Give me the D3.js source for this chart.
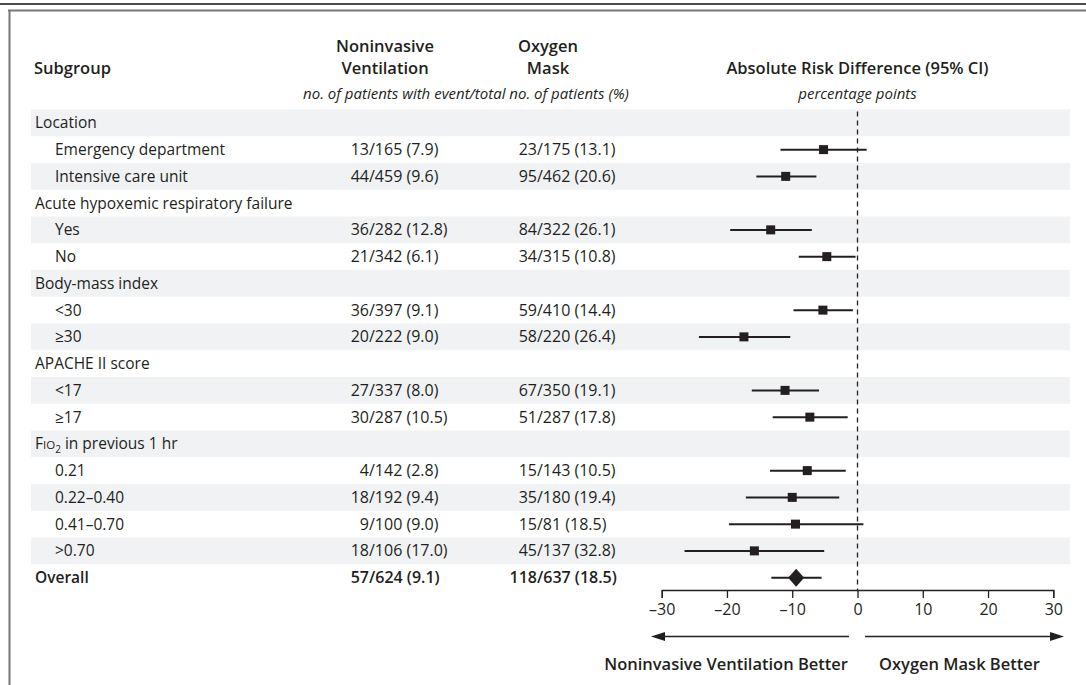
<!DOCTYPE html>
<html>
<head>
<meta charset="utf-8">
<script src="https://cdn.jsdelivr.net/npm/d3@7"></script>
<style>
body { margin: 0; background: #fff; }
svg { display: block; font-family: "Open Sans", Lato, sans-serif; }
</style>
</head>
<body>
<svg id="chart"></svg>
<script>
var width = 1086,
    height = 685;

// rows of the table, top to bottom
var subgroups = ["Location", "Emergency department", "Intensive care unit",
    "Acute hypoxemic respiratory failure", "Yes", "No",
    "Body-mass index", "<30", "\u226530",
    "APACHE II score", "<17", "\u226517",
    "FIO2 in previous 1 hr", "0.21", "0.22\u20130.40", "0.41\u20130.70", ">0.70",
    "Overall"];
var rowKind = ["group", "sub", "sub", "group", "sub", "sub", "group", "sub", "sub",
    "group", "sub", "sub", "group", "sub", "sub", "sub", "sub", "overall"];

var nivEvents = [null, 13, 44, null, 36, 21, null, 36, 20, null, 27, 30, null, 4, 18, 9, 18, 57];
var nivTotal  = [null, 165, 459, null, 282, 342, null, 397, 222, null, 337, 287, null, 142, 192, 100, 106, 624];
var nivPct    = [null, "7.9", "9.6", null, "12.8", "6.1", null, "9.1", "9.0", null, "8.0", "10.5", null, "2.8", "9.4", "9.0", "17.0", "9.1"];

var maskEvents = [null, 23, 95, null, 84, 34, null, 59, 58, null, 67, 51, null, 15, 35, 15, 45, 118];
var maskTotal  = [null, 175, 462, null, 322, 315, null, 410, 220, null, 350, 287, null, 143, 180, 81, 137, 637];
var maskPct    = [null, "13.1", "20.6", null, "26.1", "10.8", null, "14.4", "26.4", null, "19.1", "17.8", null, "10.5", "19.4", "18.5", "32.8", "18.5"];

// absolute risk difference, percentage points
var diff  = [null, -5.2, -11.0, null, -13.3, -4.7, null, -5.3, -17.4, null, -11.1, -7.3, null, -7.7, -10.0, -9.5, -15.8, -9.4];
var lower = [null, -11.8, -15.5, null, -19.5, -9.0, null, -9.8, -24.3, null, -16.2, -13.0, null, -13.4, -17.1, -19.7, -26.5, -13.2];
var upper = [null, 1.4, -6.3, null, -7.0, -0.3, null, -0.7, -10.3, null, -5.9, -1.5, null, -1.8, -2.8, 0.9, -5.1, -5.5];

var xTicks = [-30, -20, -10, 0, 10, 20, 30];

var svg = d3.select("#chart")
    .attr("width", width)
    .attr("height", height);

var x = d3.scaleLinear()
    .domain([-30, 30])
    .range([661.7, 1053.3]);

var y = d3.scaleBand()
    .domain(d3.range(subgroups.length))
    .range([109.5, 591]);

var ink = "#231f20";
var nivSlash = 369,
    maskSlash = 537;

// frame lines
svg.append("line")
    .attr("x1", 0).attr("x2", width)
    .attr("y1", 4).attr("y2", 4)
    .style("stroke", "#111").style("stroke-width", 1.5);
svg.append("line")
    .attr("x1", 8).attr("x2", width)
    .attr("y1", 10.5).attr("y2", 10.5)
    .style("stroke", "#777").style("stroke-width", 2);
svg.append("line")
    .attr("x1", 9.5).attr("x2", 9.5)
    .attr("y1", 10).attr("y2", height)
    .style("stroke", "#777").style("stroke-width", 2);

// row shading
svg.append("g")
    .selectAll("rect")
    .data(d3.range(subgroups.length).filter(function(i) { return i % 2 == 0; }))
    .enter().append("rect")
        .attr("x", 31)
        .attr("width", 1070 - 31)
        .attr("y", function(i) { return y(i); })
        .attr("height", y.bandwidth())
        .style("fill", "#f1f2f4");

// column headers
var head = svg.append("g")
    .style("fill", ink)
    .style("font-size", "16.5px")
    .style("font-weight", "600");
head.append("text").attr("x", 34).attr("y", 74).text("Subgroup");
head.append("text").attr("x", 385).attr("y", 52).attr("text-anchor", "middle").text("Noninvasive");
head.append("text").attr("x", 385).attr("y", 74).attr("text-anchor", "middle").text("Ventilation");
head.append("text").attr("x", 548).attr("y", 52).attr("text-anchor", "middle").text("Oxygen");
head.append("text").attr("x", 548).attr("y", 74).attr("text-anchor", "middle").text("Mask");
head.append("text").attr("x", x(0)).attr("y", 74).attr("text-anchor", "middle")
    .text("Absolute Risk Difference (95% CI)");

var sub = svg.append("g")
    .style("fill", ink)
    .style("font-size", "15px")
    .style("font-style", "italic");
sub.append("text").attr("x", 466).attr("y", 99).attr("text-anchor", "middle")
    .text("no. of patients with event/total no. of patients (%)");
sub.append("text").attr("x", x(0)).attr("y", 99).attr("text-anchor", "middle")
    .text("percentage points");

// table text
var rows = svg.append("g")
    .style("fill", ink)
    .style("font-size", "15.5px")
    .selectAll("g")
    .data(d3.range(subgroups.length))
    .enter().append("g")
        .attr("transform", function(i) { return "translate(0," + (y(i) + y.bandwidth() / 2 + 5.5) + ")"; })
        .style("font-weight", function(i) { return rowKind[i] == "overall" ? "600" : null; });

rows.append("text")
    .attr("x", function(i) { return rowKind[i] == "sub" ? 55 : 35; })
    .each(function(i) {
        var t = d3.select(this);
        if (subgroups[i].indexOf("FIO2") == 0) {
            t.append("tspan").text("F");
            t.append("tspan").style("font-size", "11.5px").text("IO");
            t.append("tspan").style("font-size", "10px").attr("dy", 4).text("2");
            t.append("tspan").attr("dy", -4).text(" in previous 1 hr");
        } else {
            t.text(subgroups[i]);
        }
    });

var withData = rows.filter(function(i) { return nivEvents[i] != null; });
var nums = withData.append("g").style("font-size", "16px");

nums.append("text")
    .attr("x", nivSlash)
    .attr("text-anchor", "end")
    .text(function(i) { return nivEvents[i]; });
nums.append("text")
    .attr("x", nivSlash)
    .text(function(i) { return "/" + nivTotal[i] + " (" + nivPct[i] + ")"; });
nums.append("text")
    .attr("x", maskSlash)
    .attr("text-anchor", "end")
    .text(function(i) { return maskEvents[i]; });
nums.append("text")
    .attr("x", maskSlash)
    .text(function(i) { return "/" + maskTotal[i] + " (" + maskPct[i] + ")"; });

// reference line at zero
svg.append("line")
    .attr("x1", x(0)).attr("x2", x(0))
    .attr("y1", y(0) + 2).attr("y2", 590)
    .style("stroke", ink)
    .style("stroke-width", 1.3)
    .style("stroke-dasharray", "5,4");

// confidence intervals and point estimates
var idx = d3.range(subgroups.length).filter(function(i) { return diff[i] != null; });
var marks = svg.append("g");

marks.selectAll("line.ci")
    .data(idx)
    .enter().append("line")
        .attr("class", "ci")
        .attr("x1", function(i) { return x(lower[i]); })
        .attr("x2", function(i) { return x(upper[i]); })
        .attr("y1", function(i) { return y(i) + y.bandwidth() / 2; })
        .attr("y2", function(i) { return y(i) + y.bandwidth() / 2; })
        .style("stroke", ink)
        .style("stroke-width", 2);

marks.selectAll("rect")
    .data(idx.filter(function(i) { return rowKind[i] != "overall"; }))
    .enter().append("rect")
        .attr("x", function(i) { return x(diff[i]) - 4.5; })
        .attr("y", function(i) { return y(i) + y.bandwidth() / 2 - 4.5; })
        .attr("width", 9)
        .attr("height", 9)
        .style("fill", ink);

marks.selectAll("path")
    .data(idx.filter(function(i) { return rowKind[i] == "overall"; }))
    .enter().append("path")
        .attr("d", function(i) {
            var cx = x(diff[i]), cy = y(i) + y.bandwidth() / 2;
            return "M" + (cx - 8) + "," + cy + "L" + cx + "," + (cy - 9) +
                "L" + (cx + 8) + "," + cy + "L" + cx + "," + (cy + 9) + "Z";
        })
        .style("fill", ink);

// axis
var axis = svg.append("g")
    .attr("transform", "translate(0,590)")
    .call(d3.axisBottom(x).tickValues(xTicks).tickSize(8).tickPadding(6)
        .tickFormat(function(d) { return d < 0 ? "\u2013" + Math.abs(d) : d; }));
axis.select(".domain").style("stroke", ink).style("stroke-width", 1.3);
axis.selectAll(".tick line").style("stroke", ink).style("stroke-width", 1.3);
axis.selectAll(".tick text")
    .style("font-family", "'Open Sans', sans-serif")
    .style("font-size", "16px")
    .style("fill", ink);

// direction arrows
var arrowY = 636.5;
svg.append("line")
    .attr("x1", 663).attr("x2", 849)
    .attr("y1", arrowY).attr("y2", arrowY)
    .style("stroke", ink).style("stroke-width", 1.3);
svg.append("path")
    .attr("d", "M651," + arrowY + "L665," + (arrowY - 4.5) + "L665," + (arrowY + 4.5) + "Z")
    .style("fill", ink);
svg.append("line")
    .attr("x1", 865).attr("x2", 1052)
    .attr("y1", arrowY).attr("y2", arrowY)
    .style("stroke", ink).style("stroke-width", 1.3);
svg.append("path")
    .attr("d", "M1064," + arrowY + "L1050," + (arrowY - 4.5) + "L1050," + (arrowY + 4.5) + "Z")
    .style("fill", ink);

var foot = svg.append("g")
    .style("fill", ink)
    .style("font-size", "16.5px")
    .style("font-weight", "600");
foot.append("text").attr("x", 848).attr("y", 670).attr("text-anchor", "end")
    .text("Noninvasive Ventilation Better");
foot.append("text").attr("x", 879).attr("y", 670)
    .text("Oxygen Mask Better");
</script>
</body>
</html>
